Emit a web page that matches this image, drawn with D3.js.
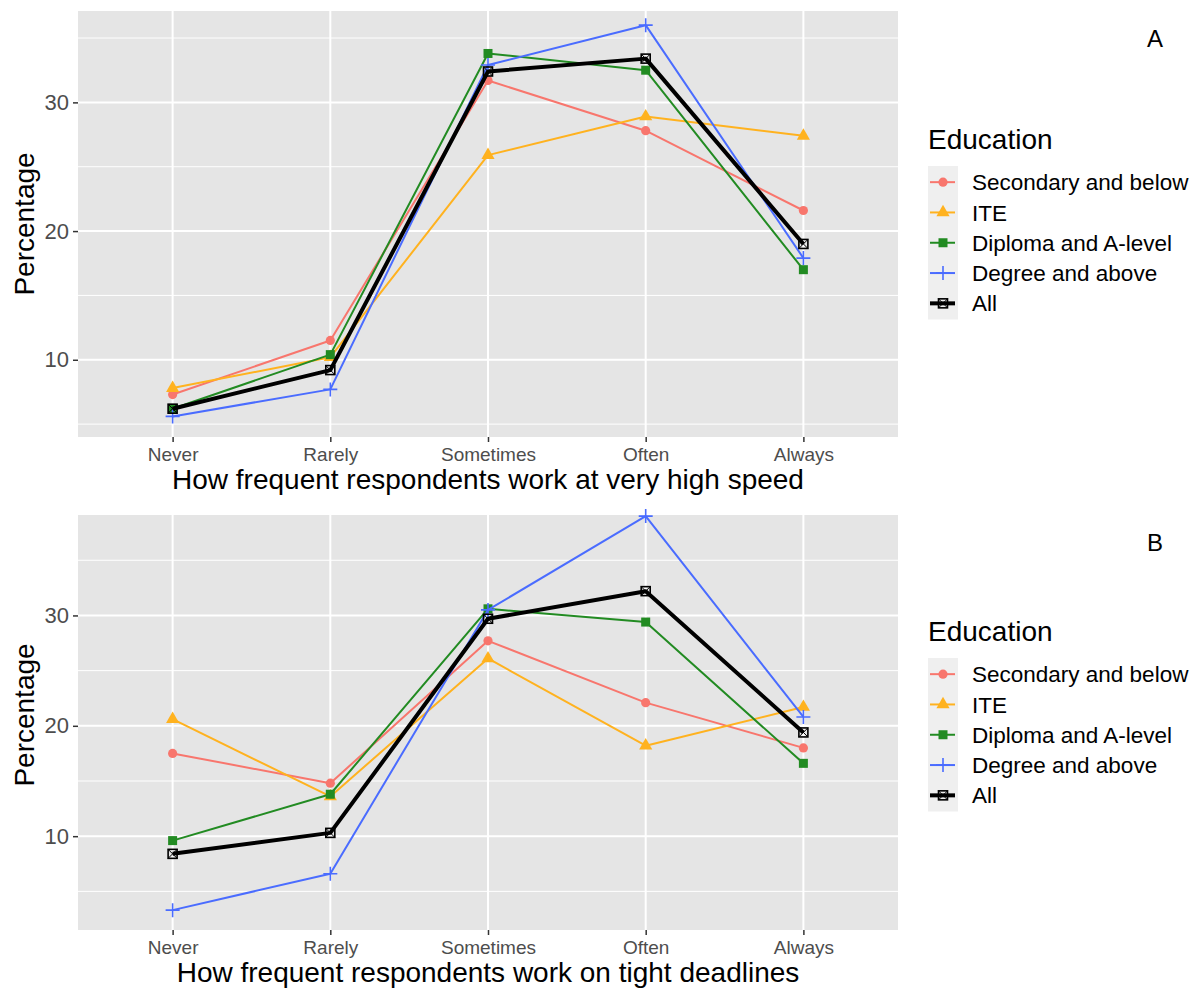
<!DOCTYPE html>
<html>
<head>
<meta charset="utf-8">
<script src="https://cdn.jsdelivr.net/npm/d3@7.9.0/dist/d3.min.js"></script>
<style>
  body { margin: 0; background: #fff; }
  svg { display: block; font-family: "Liberation Sans", Arial, sans-serif; }
</style>
</head>
<body>
<svg id="chart" width="1200" height="988"></svg>
<script>
// --- data ---
const categories = ["Never", "Rarely", "Sometimes", "Often", "Always"];
const seriesNames = ["Secondary and below", "ITE", "Diploma and A-level", "Degree and above", "All"];
const seriesColors = ["#f8766d", "#ffb21f", "#228b22", "#4a6cff", "#000000"];
const seriesShapes = ["circle", "triangle", "square", "plus", "squarecross"];

const speedSecondary = [7.3, 11.5, 31.7, 27.8, 21.6];
const speedITE = [7.8, 10.2, 25.9, 28.9, 27.4];
const speedDiploma = [6.2, 10.4, 33.8, 32.5, 17.0];
const speedDegree = [5.6, 7.7, 32.9, 36.0, 17.9];
const speedAll = [6.2, 9.2, 32.4, 33.4, 19.0];

const deadlineSecondary = [17.5, 14.8, 27.7, 22.1, 18.0];
const deadlineITE = [20.6, 13.6, 26.1, 18.2, 21.7];
const deadlineDiploma = [9.6, 13.8, 30.6, 29.4, 16.6];
const deadlineDegree = [3.3, 6.6, 30.5, 39.0, 20.8];
const deadlineAll = [8.4, 10.3, 29.7, 32.2, 19.4];

const majorTicks = [10, 20, 30];
const minorTicks = [5, 15, 25, 35];

const svg = d3.select("#chart");

drawPanel({
  top: 11, bottom: 437, titleCenter: 224,
  domain: [4.0, 37.1],
  series: [speedSecondary, speedITE, speedDiploma, speedDegree, speedAll],
  xTitle: "How frequent respondents work at very high speed",
  tag: "A", tagY: 47, legendTop: 149
});

drawPanel({
  top: 515, bottom: 930, titleCenter: 715,
  domain: [1.5, 39.1],
  series: [deadlineSecondary, deadlineITE, deadlineDiploma, deadlineDegree, deadlineAll],
  xTitle: "How frequent respondents work on tight deadlines",
  tag: "B", tagY: 551, legendTop: 641
});

function drawPanel(cfg) {
  const left = 78, right = 898;
  const g = svg.append("g");

  const x = d3.scalePoint().domain(categories).range([left, right]).padding(0.6);
  const y = d3.scaleLinear().domain(cfg.domain).range([cfg.bottom, cfg.top]);

  // panel background + grid
  g.append("rect")
    .attr("x", left).attr("y", cfg.top)
    .attr("width", right - left).attr("height", cfg.bottom - cfg.top)
    .attr("fill", "#e5e5e5");

  g.selectAll(".minor").data(minorTicks.filter(d => d > cfg.domain[0] && d < cfg.domain[1]))
    .join("line")
    .attr("x1", left).attr("x2", right)
    .attr("y1", d => y(d)).attr("y2", d => y(d))
    .attr("stroke", "#fff").attr("stroke-width", 1);

  g.selectAll(".major").data(majorTicks)
    .join("line")
    .attr("x1", left).attr("x2", right)
    .attr("y1", d => y(d)).attr("y2", d => y(d))
    .attr("stroke", "#fff").attr("stroke-width", 2);

  g.selectAll(".vgrid").data(categories)
    .join("line")
    .attr("x1", d => x(d)).attr("x2", d => x(d))
    .attr("y1", cfg.top).attr("y2", cfg.bottom)
    .attr("stroke", "#fff").attr("stroke-width", 2);

  // axes
  const yAxis = g.append("g")
    .attr("transform", `translate(${left},0)`)
    .call(d3.axisLeft(y).tickValues(majorTicks).tickSize(5).tickPadding(4));
  yAxis.select(".domain").remove();
  yAxis.selectAll("line").attr("stroke", "#333").attr("stroke-width", 1.5);
  yAxis.selectAll("text").attr("fill", "#4d4d4d").style("font-size", "22px");

  const xAxis = g.append("g")
    .attr("transform", `translate(0,${cfg.bottom})`)
    .call(d3.axisBottom(x).tickSize(5).tickPadding(6));
  xAxis.select(".domain").remove();
  xAxis.selectAll("line").attr("stroke", "#333").attr("stroke-width", 1.5);
  xAxis.selectAll("text").attr("fill", "#4d4d4d").style("font-size", "19px");

  g.append("text")
    .attr("x", (left + right) / 2).attr("y", cfg.bottom + 52)
    .attr("text-anchor", "middle")
    .style("font-size", "28px")
    .text(cfg.xTitle);

  g.append("text")
    .attr("transform", `translate(34,${cfg.titleCenter}) rotate(-90)`)
    .attr("text-anchor", "middle")
    .style("font-size", "28px")
    .text("Percentage");

  // lines + points (colored groups first, "All" on top)
  const line = d3.line().x((d, i) => x(categories[i])).y(d => y(d));
  const order = [0, 1, 2, 3, 4];
  order.forEach(k => {
    const isAll = k === 4;
    g.append("path")
      .datum(cfg.series[k])
      .attr("d", line)
      .attr("fill", "none")
      .attr("stroke", seriesColors[k])
      .attr("stroke-width", isAll ? 4 : 2)
      .attr("stroke-linejoin", "round");
    cfg.series[k].forEach((v, i) => {
      drawMarker(g, x(categories[i]), y(v), k);
    });
  });

  // tag
  svg.append("text")
    .attr("x", 1155).attr("y", cfg.tagY)
    .attr("text-anchor", "middle")
    .style("font-size", "24px")
    .text(cfg.tag);

  // legend
  const lg = svg.append("g");
  lg.append("text")
    .attr("x", 928).attr("y", cfg.legendTop)
    .style("font-size", "28px")
    .text("Education");
  const itemTop = cfg.legendTop + 17;
  const step = 30.3;
  lg.append("rect")
    .attr("x", 928).attr("y", itemTop)
    .attr("width", 30).attr("height", step * 5 + 2)
    .attr("fill", "#efefef");
  seriesNames.forEach((name, k) => {
    const cy = itemTop + step * k + step / 2 + 1;
    lg.append("line")
      .attr("x1", 930).attr("x2", 955)
      .attr("y1", cy).attr("y2", cy)
      .attr("stroke", seriesColors[k])
      .attr("stroke-width", k === 4 ? 4 : 2);
    drawMarker(lg, 943, cy, k);
    lg.append("text")
      .attr("x", 972).attr("y", cy)
      .attr("dy", "0.36em")
      .style("font-size", "22.5px")
      .text(name);
  });
}

function drawMarker(parent, cx, cy, k) {
  const color = seriesColors[k];
  const shape = seriesShapes[k];
  const m = parent.append("g").attr("transform", `translate(${cx},${cy})`);
  if (shape === "circle") {
    m.append("circle").attr("r", 4.6).attr("fill", color);
  } else if (shape === "triangle") {
    m.append("path").attr("d", d3.symbol(d3.symbolTriangle, 75)()).attr("fill", color);
  } else if (shape === "square") {
    m.append("rect").attr("x", -4.5).attr("y", -4.5).attr("width", 9).attr("height", 9).attr("fill", color);
  } else if (shape === "plus") {
    m.append("path").attr("d", "M-7,0H7M0,-7V7").attr("stroke", color).attr("stroke-width", 1.6);
  } else {
    m.append("rect").attr("x", -4.5).attr("y", -4.5).attr("width", 9).attr("height", 9)
      .attr("fill", "none").attr("stroke", color).attr("stroke-width", 1.6);
    m.append("path").attr("d", "M-4.5,-4.5L4.5,4.5M4.5,-4.5L-4.5,4.5")
      .attr("stroke", color).attr("stroke-width", 1);
  }
}
</script>
</body>
</html>
